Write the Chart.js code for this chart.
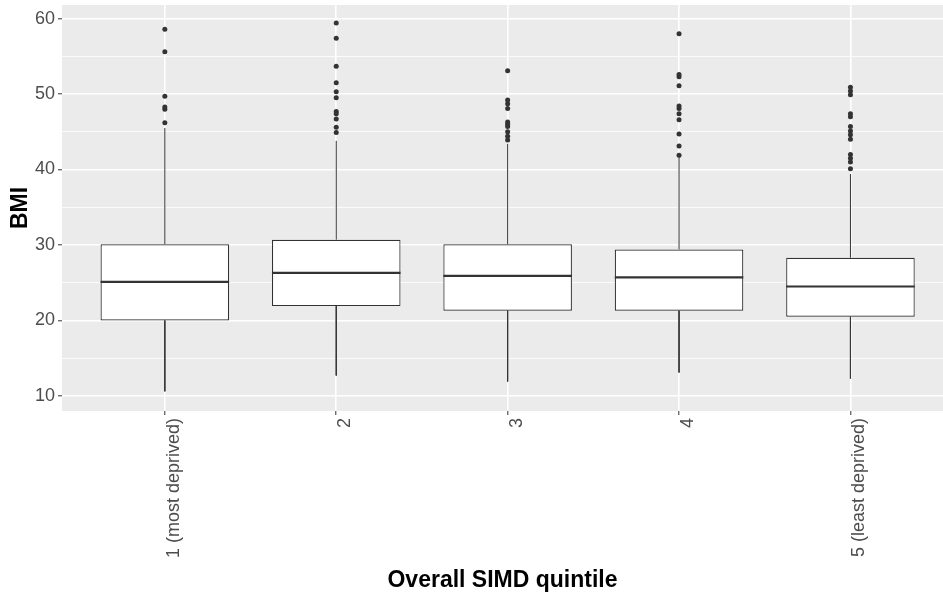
<!DOCTYPE html>
<html>
<head>
<meta charset="utf-8">
<script src="https://cdn.jsdelivr.net/npm/chart.js@4"></script>
<style>
  body { margin: 0; background: #fff; }
  #wrap { width: 943px; height: 601px; position: relative; }
</style>
</head>
<body>
<div id="wrap"><canvas id="bmiChart"></canvas></div>
<script>
// box statistics per SIMD quintile
const categories = ['1 (most deprived)', '2', '3', '4', '5 (least deprived)'];
const lowerWhisker = [10.6, 12.7, 11.9, 13.1, 12.3];
const q1 = [20.0, 21.9, 21.3, 21.3, 20.5];
const median = [25.1, 26.3, 25.9, 25.7, 24.5];
const q3 = [30.1, 30.7, 30.1, 29.4, 28.3];
const upperWhisker = [45.5, 43.8, 43.4, 41.7, 39.4];

const outliers1 = [58.6, 55.6, 49.7, 48.3, 48.0, 46.2];
const outliers2 = [59.4, 57.4, 53.7, 51.5, 50.3, 49.5, 47.7, 47.4, 46.7, 45.6, 44.9];
const outliers3 = [53.1, 49.2, 48.7, 48.1, 46.3, 46.0, 45.7, 45.0, 44.4, 43.9];
const outliers4 = [58.0, 52.6, 52.3, 51.1, 48.4, 48.1, 47.4, 46.6, 44.7, 43.1, 41.9];
const outliers5 = [50.9, 50.4, 49.9, 47.4, 47.0, 45.7, 45.1, 44.6, 44.0, 42.0, 41.5, 41.0, 40.1];
const outliers = [outliers1, outliers2, outliers3, outliers4, outliers5];

const yTicks = [10, 15, 20, 25, 30, 35, 40, 45, 50, 55, 60];

const BOX_HALF = 0.375;
const INK = '#333333';

// build datasets
const boxData = categories.map((c, i) => ({ x: i + 1, y: [q1[i], q3[i]] }));

const whiskerData = [];
categories.forEach((c, i) => {
    whiskerData.push({ x: i + 1, y: q3[i] }, { x: i + 1, y: upperWhisker[i] }, { x: i + 1, y: null });
    whiskerData.push({ x: i + 1, y: q1[i] }, { x: i + 1, y: lowerWhisker[i] }, { x: i + 1, y: null });
});

const medianData = [];
categories.forEach((c, i) => {
    medianData.push({ x: i + 1 - BOX_HALF, y: median[i] }, { x: i + 1 + BOX_HALF, y: median[i] }, { x: i + 1, y: null });
});

const outlierData = [];
outliers.forEach((list, i) => {
    list.forEach(v => outlierData.push({ x: i + 1, y: v }));
});

// grey ggplot panel behind everything
const panelBg = {
    id: 'panelBg',
    beforeDraw(chart) {
        const { ctx, chartArea: a } = chart;
        ctx.save();
        ctx.fillStyle = '#fff';
        ctx.fillRect(0, 0, chart.width, chart.height);
        ctx.fillStyle = '#EBEBEB';
        ctx.fillRect(a.left, a.top, a.right - a.left, a.bottom - a.top);
        ctx.restore();
    }
};

const FONT = "'Liberation Sans', Arial, sans-serif";

new Chart(document.getElementById('bmiChart'), {
    type: 'bar',
    data: {
        datasets: [
            {
                type: 'line',
                data: medianData,
                borderColor: INK,
                borderWidth: 2.2,
                pointRadius: 0,
                spanGaps: false,
                order: 0
            },
            {
                type: 'scatter',
                data: outlierData,
                backgroundColor: INK,
                borderWidth: 0,
                pointRadius: 2.5,
                order: 1
            },
            {
                type: 'line',
                data: whiskerData,
                borderColor: INK,
                borderWidth: 1,
                pointRadius: 0,
                spanGaps: false,
                order: 3
            },
            {
                type: 'bar',
                data: boxData,
                backgroundColor: '#ffffff',
                borderColor: INK,
                borderWidth: 1.2,
                borderSkipped: false,
                categoryPercentage: 1,
                barPercentage: 0.75,
                order: 2
            }
        ]
    },
    options: {
        responsive: true,
        maintainAspectRatio: false,
        animation: false,
        events: [],
        layout: { autoPadding: false, padding: { top: 5, right: 0, left: 0, bottom: 0 } },
        plugins: {
            legend: { display: false },
            tooltip: { enabled: false }
        },
        scales: {
            x: {
                type: 'linear',
                min: 0.4,
                max: 5.54,
                offset: false,
                afterBuildTicks: scale => {
                    scale.ticks = categories.map((c, i) => ({ value: i + 1 }));
                },
                afterFit: scale => {
                    scale.height = 190;
                    scale.paddingLeft = 0;
                    scale.paddingRight = 0;
                },
                border: { display: false },
                grid: {
                    offset: false,
                    color: '#ffffff',
                    lineWidth: 1.6,
                    tickColor: INK,
                    tickWidth: 1,
                    tickLength: 4
                },
                ticks: {
                    autoSkip: false,
                    minRotation: 90,
                    maxRotation: 90,
                    padding: 3,
                    labelOffset: 9,
                    color: '#4D4D4D',
                    font: { family: FONT, size: 18 },
                    callback: v => categories[Math.round(v) - 1]
                },
                title: {
                    display: true,
                    text: 'Overall SIMD quintile',
                    color: '#000',
                    font: { family: FONT, size: 23, weight: 'bold' },
                    padding: { top: 0, bottom: 7 }
                }
            },
            y: {
                min: 8.0,
                max: 61.8,
                afterBuildTicks: scale => {
                    scale.ticks = yTicks.map(v => ({ value: v }));
                },
                afterFit: scale => {
                    scale.width = 62;
                    scale.paddingTop = 0;
                    scale.paddingBottom = 0;
                },
                border: { display: false },
                grid: {
                    color: '#ffffff',
                    lineWidth: ctx => (ctx.tick && ctx.tick.value % 10 === 0 ? 1.6 : 0.8),
                    tickColor: ctx => (ctx.tick && ctx.tick.value % 10 === 0 ? INK : 'rgba(0,0,0,0)'),
                    tickWidth: 1,
                    tickLength: 4
                },
                ticks: {
                    padding: 3,
                    color: '#4D4D4D',
                    font: { family: FONT, size: 18 },
                    callback: v => (v % 10 === 0 ? String(v) : '')
                },
                title: {
                    display: true,
                    text: 'BMI',
                    color: '#000',
                    font: { family: FONT, size: 23, weight: 'bold' },
                    padding: { top: 7, bottom: 0 }
                }
            }
        }
    },
    plugins: [panelBg]
});
</script>
</body>
</html>
